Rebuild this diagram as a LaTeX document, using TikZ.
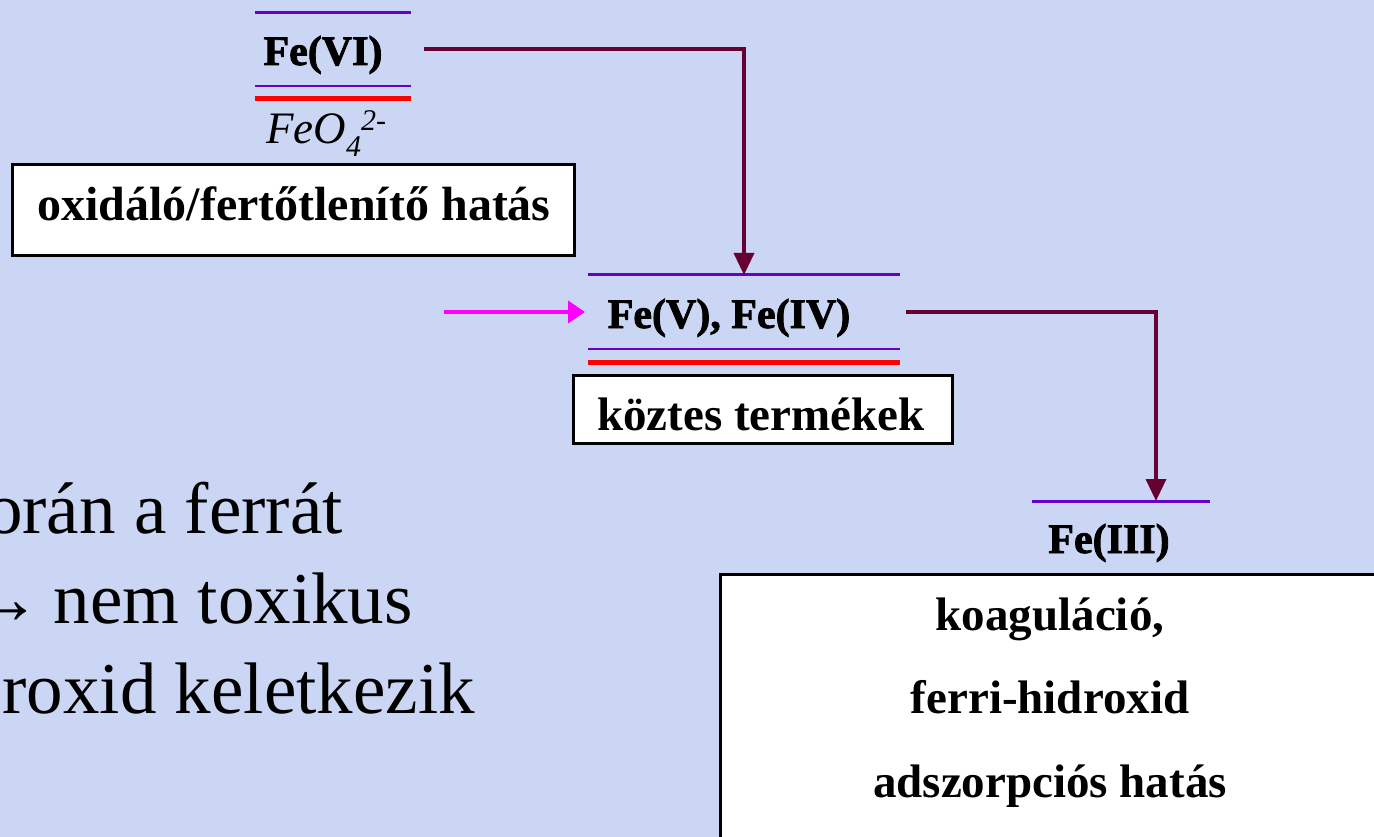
\documentclass[tikz,border=0pt]{standalone}
\usepackage{fontspec}
\setmainfont{Liberation Serif}
\newfontface\heavyfe[FakeBold=2]{Liberation Serif Bold}
\usetikzlibrary{arrows.meta}
\definecolor{bgc}{RGB}{203,214,244}
\definecolor{vio}{RGB}{102,0,204}
\definecolor{darkmaroon}{RGB}{102,0,51}
\definecolor{pinkarr}{RGB}{255,0,255}
\tikzset{
  felabel/.style={font=\fontsize{42}{50}\heavyfe, inner sep=0pt, anchor=base},
  vline/.style={draw=vio, line width=3pt},
  thinvline/.style={draw=vio, line width=2pt},
  redline/.style={draw=red, line width=5pt},
  whitebox/.style={draw=black, fill=white, line width=3pt, inner sep=0pt},
  boxtext/.style={font=\fontsize{47}{56}\selectfont\bfseries, inner sep=0pt, anchor=base},
  conn/.style={draw=darkmaroon, line width=3.5pt, -{Triangle[width=20pt,length=22pt]}},
  pinkconn/.style={draw=pinkarr, line width=4pt, -{Triangle[width=22pt,length=17pt]}},
  bodytext/.style={font=\fontsize{73}{85}\selectfont, inner sep=0pt, anchor=base east},
}
\begin{document}
\begin{tikzpicture}[x=1pt,y=-1pt]
\useasboundingbox (0,0) rectangle (1374,837);
\clip (0,0) rectangle (1374,837);
\fill[bgc] (0,0) rectangle (1374,837);

% Fe(VI) group
\draw[vline] (255,13) -- (411,13);
\node[felabel] (fe6) at (323,65) {Fe(VI)};
\draw[thinvline] (255,86) -- (411,86);
\draw[redline] (255,99) -- (411,99);
\node[font=\fontsize{45}{50}\selectfont\itshape, inner sep=0pt, anchor=base west] (feo4) at (266,144)
  {FeO{\fontsize{30}{32}\selectfont\raisebox{-13pt}{4}\raisebox{13pt}{2-}}};
\node[whitebox, minimum width=562pt, minimum height=91pt] (box1) at (293,210.5) {};
\node[boxtext, font=\fontsize{48}{56}\selectfont\bfseries] (box1t) at (294,221) {oxidáló/fertőtlenítő hatás};

% Fe(V), Fe(IV) group
\coordinate (t1) at (744,275);
\draw[vline] (588,275) -- (900,275);
\node[felabel] (fe45) at (729,328) {Fe(V), Fe(IV)};
\draw[thinvline] (588,349) -- (900,349);
\draw[redline] (588,362) -- (900,362);
\node[whitebox, minimum width=379pt, minimum height=68pt] (box2) at (762.5,409) {};
\node[boxtext] (box2t) at (761,430) {köztes termékek};

% Fe(III) group
\coordinate (t2) at (1156,501);
\draw[vline] (1032,501) -- (1210,501);
\node[felabel] (fe3) at (1109,553) {Fe(III)};
\node[whitebox, minimum width=700pt, minimum height=320pt, anchor=north west] (box3) at (719,573) {};
\node[boxtext] (b3a) at (1050,630) {koaguláció,};
\node[boxtext] (b3b) at (1050,713) {ferri-hidroxid};
\node[boxtext] (b3c) at (1050,797) {adszorpciós hatás};

% connectors
\coordinate (s1) at (424,49);
\coordinate (s2) at (906,312);
\coordinate (p1) at (444,312);
\coordinate (p2) at (585,312);
\draw[conn] (s1) -| (t1);
\draw[conn] (s2) -| (t2);
\draw[pinkconn] (p1) -- (p2);

% body text (partly outside the slide, as in the reference)
\node[bodytext] (l1) at (343,533) {orán a ferrát};
\node[bodytext] (l2) at (413,623) {→\hspace{-6pt} nem toxikus};
\node[bodytext] (l3) at (475,713) {roxid keletkezik};
\end{tikzpicture}
\end{document}
